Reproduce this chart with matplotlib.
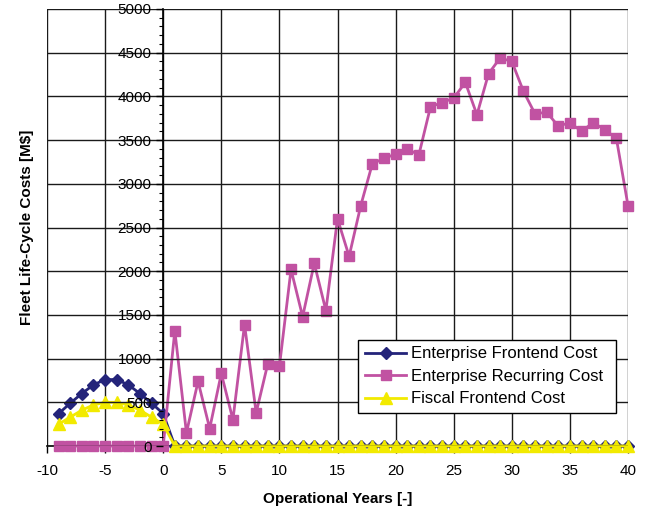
import matplotlib
matplotlib.use("Agg")
import matplotlib.pyplot as plt
from matplotlib.ticker import MultipleLocator

plt.rcParams['font.family'] = ['Liberation Sans', 'DejaVu Sans']
plt.rcParams['axes.unicode_minus'] = False

years = list(range(-9, 41))

enterprise_frontend = [370, 490, 600, 700, 760, 760, 700, 600, 490, 370] + [0] * 40
enterprise_recurring = [0] * 10 + [
    1320, 150, 740, 200, 830, 300, 1390, 380, 940, 910,
    2020, 1480, 2090, 1550, 2600, 2170, 2750, 3230, 3290, 3340,
    3400, 3330, 3880, 3930, 3980, 4160, 3790, 4260, 4440, 4400,
    4060, 3800, 3820, 3660, 3700, 3600, 3700, 3620, 3520, 2750]
fiscal_frontend = [250, 330, 410, 470, 500, 500, 470, 410, 330, 250] + [0] * 40

x_ticks = list(range(-10, 41, 5))
y_ticks = list(range(0, 5001, 500))

fig = plt.figure(figsize=(6.49, 5.15), dpi=100)
ax = fig.add_axes([47/649, 1-446/515, (628-47)/649, (446-9)/515])

ax.set_xlim(-10, 40)
ax.set_ylim(0, 5000)
ax.set_xticks(x_ticks)
ax.set_yticks(y_ticks)
ax.yaxis.set_minor_locator(MultipleLocator(100))
ax.grid(True, which='major', color='#1a1a1a', linewidth=1.0)
ax.set_axisbelow(True)

for s in ['top', 'right']:
    ax.spines[s].set_visible(False)
ax.spines['left'].set_position(('data', 0))
ax.spines['left'].set_linewidth(1.2)
ax.spines['bottom'].set_linewidth(1.2)

ax.tick_params(axis='both', which='major', labelsize=11, direction='out', length=5, width=1)
ax.tick_params(axis='y', which='minor', direction='out', length=3, width=0.8)
ax.tick_params(axis='x', pad=8)

ax.plot(years, enterprise_frontend, color='#24247A', marker='D', markersize=6,
        linewidth=2, label='Enterprise Frontend Cost', clip_on=False, zorder=3)
ax.plot(years, enterprise_recurring, color='#C152A2', marker='s', markersize=7.5,
        linewidth=2, label='Enterprise Recurring Cost', clip_on=False, zorder=4)
ax.plot(years, fiscal_frontend, color='#F2EA00', marker='^', markersize=8.5,
        linewidth=2, label='Fiscal Frontend Cost', clip_on=False, zorder=5)

ax.yaxis.set_zorder(6)

ax.set_xlabel('Operational Years [-]', fontsize=11, fontweight='bold', labelpad=10)
ax.set_ylabel('Fleet Life-Cycle Costs [M$]', fontsize=11, fontweight='bold')
ax.yaxis.set_label_coords((34-47)/581, 0.5)

leg = ax.legend(loc='lower left', bbox_to_anchor=((358-47)/581, (446-413)/437, (616-358)/581, (413-340)/437),
                mode='expand', fontsize=12, frameon=True, fancybox=False,
                edgecolor='black', framealpha=1, borderpad=0.4, labelspacing=0.45,
                handlelength=2.5, handletextpad=0.3, borderaxespad=0)
leg.get_frame().set_linewidth(1.0)
leg.set_zorder(10)

fig.savefig('out.png', dpi=100)
